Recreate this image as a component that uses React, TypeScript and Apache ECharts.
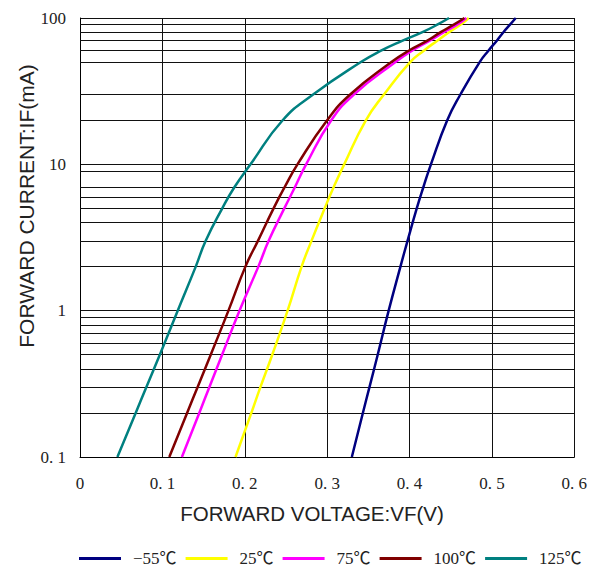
import React, { useEffect, useRef } from "react";
import * as echarts from "echarts";

// Forward current levels (mA) shared by all curves
const currents = [0.1, 0.2, 0.3, 0.5, 1, 2, 3, 5, 7, 10, 20, 30, 50, 60, 70, 80, 90, 100];

// Forward voltage (V) at each current level, per temperature
const vNeg55 = [0.330, 0.3434, 0.3514, 0.3614, 0.3747, 0.389, 0.3976, 0.4088, 0.4169, 0.426, 0.4458, 0.4618, 0.4852, 0.496, 0.506, 0.514, 0.522, 0.529];
const v25 = [0.1888, 0.208, 0.219, 0.2334, 0.252, 0.269, 0.281, 0.297, 0.308, 0.3207, 0.347, 0.369, 0.4008, 0.4177, 0.4337, 0.448, 0.4618, 0.4719];
const v75 = [0.1237, 0.1448, 0.157, 0.1725, 0.1936, 0.2165, 0.229, 0.248, 0.261, 0.2745, 0.305, 0.3325, 0.383, 0.4035, 0.4245, 0.4418, 0.4578, 0.469];
const v100 = [0.1084, 0.13, 0.1427, 0.1587, 0.1802, 0.2008, 0.216, 0.235, 0.2485, 0.264, 0.300, 0.328, 0.378, 0.3996, 0.4217, 0.4378, 0.4538, 0.4667];
const v125 = [0.0454, 0.0676, 0.0805, 0.0969, 0.1186, 0.1405, 0.1526, 0.1727, 0.1876, 0.207, 0.246, 0.283, 0.341, 0.366, 0.3916, 0.4157, 0.4337, 0.448];

const seriesNames = ["−55℃", "25℃", "75℃", "100℃", "125℃"];
const seriesColors = ["#000080", "#FFFF00", "#FF00FF", "#800000", "#008080"];
const seriesVoltages = [vNeg55, v25, v75, v100, v125];

// Axis tick labels
const xTickValues = [0, 0.1, 0.2, 0.3, 0.4, 0.5, 0.6];
const xTickLabels = ["0", "0. 1", "0. 2", "0. 3", "0. 4", "0. 5", "0. 6"];
const yTickValues = [0.1, 1, 10, 100];
const yTickLabels = ["0. 1", "1", "10", "100"];

// Minor horizontal grid lines as drawn in the reference
const minorGridValues = [
  0.2, 0.3, 0.4, 0.5, 0.6, 0.7, 0.8, 0.9,
  2, 3, 4, 5, 6, 7, 9,
  20, 30, 50, 60, 70, 80, 90,
];

const xTitle = "FORWARD VOLTAGE:VF(V)";
const yTitle = "FORWARD CURRENT:IF(mA)";

const SERIF = "'Liberation Serif', 'Noto Sans CJK SC', serif";
const SANS = "'Liberation Sans', Arial, sans-serif";

export default function App() {
  const ref = useRef<HTMLDivElement>(null);

  useEffect(() => {
    if (!ref.current) return;
    const chart = echarts.init(ref.current, null, { renderer: "svg" });

    const lineSeries = seriesNames.map((name, i) => ({
      name,
      type: "line",
      data: currents.map((c, j) => [seriesVoltages[i][j], c]),
      showSymbol: false,
      symbol: "none",
      smooth: 0.5,
      z: 5,
      lineStyle: { color: seriesColors[i], width: 2.5, join: "round" },
      itemStyle: { color: seriesColors[i] },
    }));

    const option = {
      animation: false,
      backgroundColor: "#ffffff",
      grid: { left: 80, right: 12, top: 18, bottom: 117, containLabel: false },
      xAxis: {
        type: "value",
        min: 0,
        max: 0.6,
        interval: 0.1,
        axisLine: { show: true, onZero: false, lineStyle: { color: "#000", width: 1 } },
        axisTick: { show: false },
        splitLine: { show: true, lineStyle: { color: "#111", width: 1 } },
        axisLabel: {
          margin: 18,
          fontFamily: SERIF,
          fontSize: 17,
          color: "#222",
          formatter: (v: number) => {
            const idx = xTickValues.findIndex((t) => Math.abs(t - v) < 1e-6);
            return idx >= 0 ? xTickLabels[idx] : "";
          },
        },
      },
      yAxis: {
        type: "log",
        logBase: 10,
        min: 0.1,
        max: 100,
        axisLine: { show: true, lineStyle: { color: "#000", width: 1 } },
        axisTick: { show: false },
        splitLine: { show: true, lineStyle: { color: "#111", width: 1 } },
        axisLabel: {
          margin: 14,
          fontFamily: SERIF,
          fontSize: 17,
          color: "#222",
          formatter: (v: number) => {
            const idx = yTickValues.findIndex((t) => Math.abs(Math.log10(t) - Math.log10(v)) < 1e-6);
            return idx >= 0 ? yTickLabels[idx] : "";
          },
        },
      },
      legend: {
        data: seriesNames,
        left: 79,
        top: 550,
        width: 520,
        padding: 0,
        icon: "rect",
        itemWidth: 42,
        itemHeight: 3,
        itemGap: 9,
        textStyle: {
          fontFamily: SERIF,
          fontSize: 17,
          color: "#222",
          padding: [0, 0, 0, 7],
        },
      },
      graphic: [
        {
          type: "text",
          x: 26,
          y: 206,
          rotation: Math.PI / 2,
          style: {
            text: yTitle,
            font: `21px ${SANS}`,
            fill: "#222",
            align: "center",
            verticalAlign: "middle",
          },
        },
        {
          type: "text",
          x: 312,
          y: 513,
          style: {
            text: xTitle,
            font: `20.5px ${SANS}`,
            fill: "#222",
            align: "center",
            verticalAlign: "middle",
          },
        },
      ],
      series: [
        {
          name: "minor-grid",
          type: "line",
          data: [],
          z: 1,
          silent: true,
          markLine: {
            silent: true,
            symbol: ["none", "none"],
            label: { show: false },
            emphasis: { disabled: true },
            lineStyle: { color: "#111", width: 1, type: "solid" },
            data: minorGridValues.map((v) => ({ yAxis: v })),
          },
        },
        ...lineSeries,
      ],
    };

    chart.setOption(option as any);
    return () => chart.dispose();
  }, []);

  return (
    <div
      ref={ref}
      style={{ position: "fixed", left: 0, top: 0, width: 590, height: 574 }}
    />
  );
}
